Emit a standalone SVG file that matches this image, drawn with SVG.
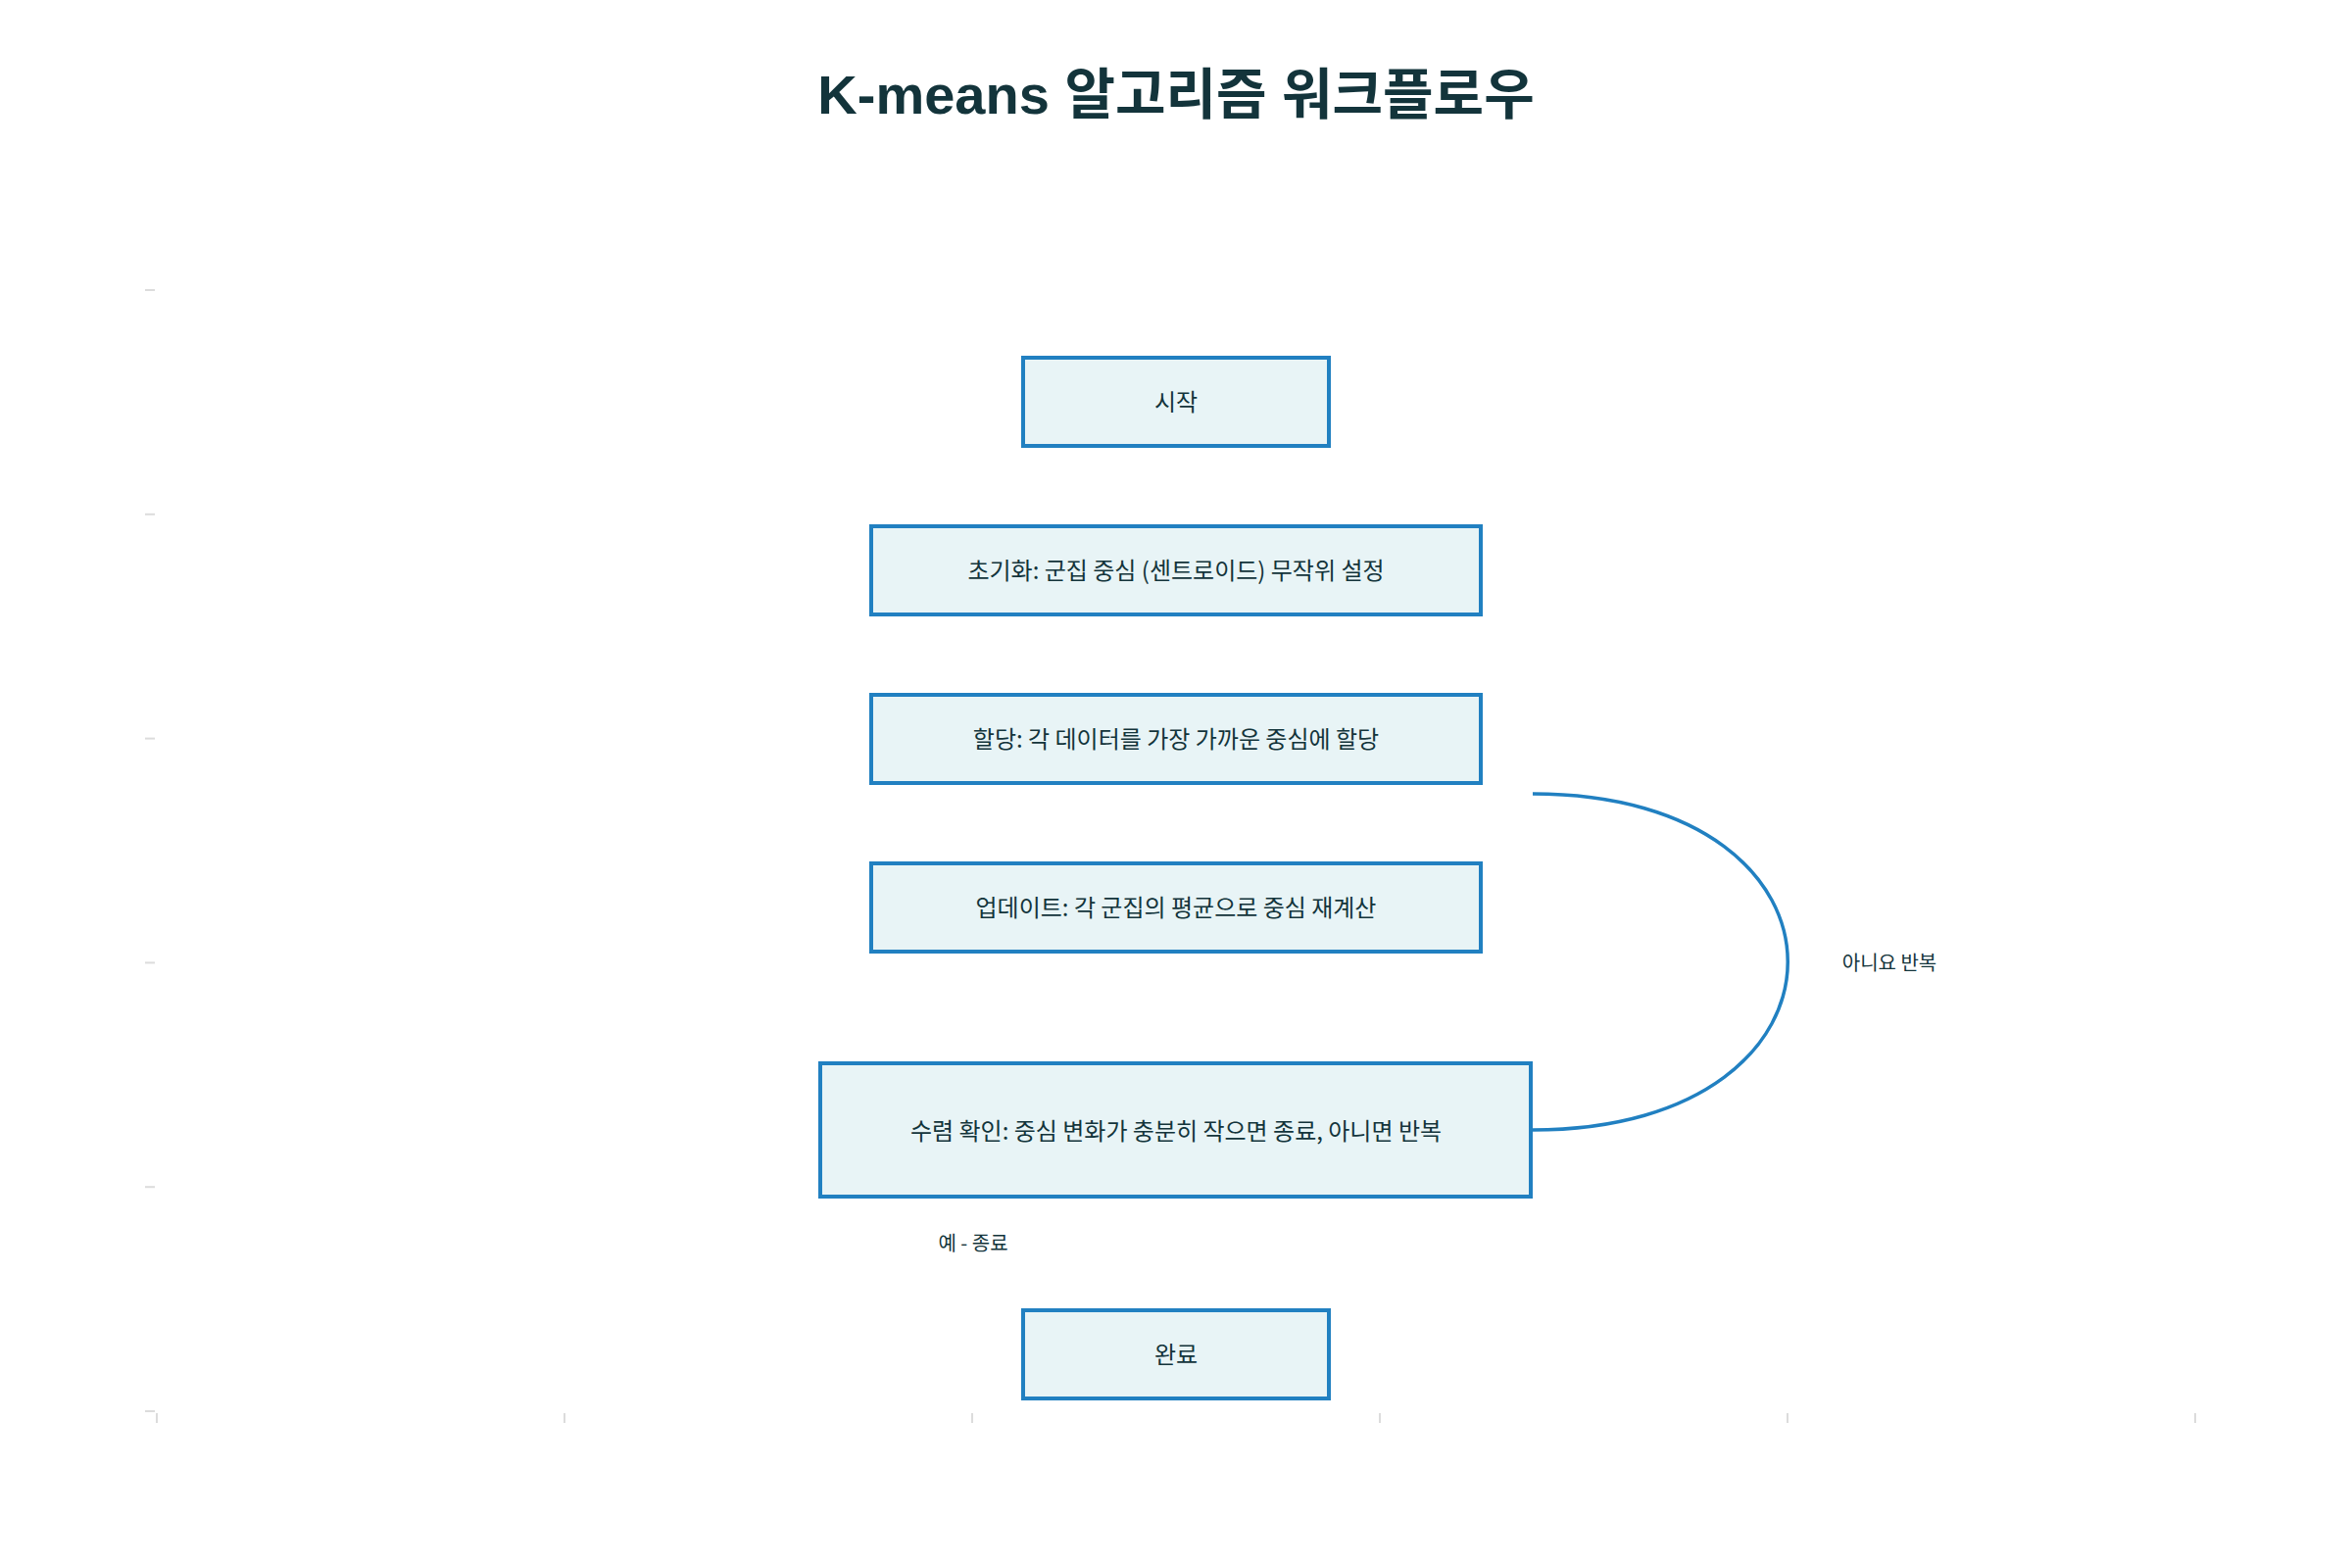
<svg xmlns="http://www.w3.org/2000/svg" width="2400" height="1600" viewBox="0 0 2400 1600">
  <style>
    .bg { fill: #ffffff; }
    .tick { stroke: #dcdcdc; stroke-width: 2; fill: none; }
    .node rect { fill: #E8F4F6; stroke: #2180C1; stroke-width: 4; }
    .node text { font-family: "Noto Sans CJK KR", "Liberation Sans", sans-serif; font-size: 24px; fill: #13343B; text-anchor: middle; dominant-baseline: central; }
    .title { font-family: "Liberation Sans", "Noto Sans CJK KR", sans-serif; font-weight: bold; font-size: 56px; fill: #13343B; text-anchor: middle; }
    .edge { fill: none; stroke: #2180C1; stroke-width: 3.5; }
    .label { font-family: "Noto Sans CJK KR", "Liberation Sans", sans-serif; font-size: 20px; fill: #13343B; text-anchor: middle; dominant-baseline: central; }
  </style>
  <rect class="bg" x="0" y="0" width="2400" height="1600"/>

  <text class="title" x="1200" y="116">K-means 알고리즘 워크플로우</text>

  <g id="axis-ticks">
    <line class="tick" x1="148" y1="296" x2="158" y2="296"/>
    <line class="tick" x1="148" y1="524.8" x2="158" y2="524.8"/>
    <line class="tick" x1="148" y1="753.6" x2="158" y2="753.6"/>
    <line class="tick" x1="148" y1="982.4" x2="158" y2="982.4"/>
    <line class="tick" x1="148" y1="1211.2" x2="158" y2="1211.2"/>
    <line class="tick" x1="148" y1="1440" x2="158" y2="1440"/>
    <line class="tick" x1="160" y1="1442" x2="160" y2="1452"/>
    <line class="tick" x1="576" y1="1442" x2="576" y2="1452"/>
    <line class="tick" x1="992" y1="1442" x2="992" y2="1452"/>
    <line class="tick" x1="1408" y1="1442" x2="1408" y2="1452"/>
    <line class="tick" x1="1824" y1="1442" x2="1824" y2="1452"/>
    <line class="tick" x1="2240" y1="1442" x2="2240" y2="1452"/>
  </g>

  <g id="connectors">
    <path class="edge" d="M1564,810 C1911,810 1911,1153 1564,1153"/>
    <text class="label" x="1928" y="981">아니요 반복</text>
    <text class="label" x="993" y="1267">예 - 종료</text>
  </g>

  <g id="node-start" class="node">
    <rect x="1044" y="365" width="312" height="90"/>
    <text x="1200" y="408">시작</text>
  </g>
  <g id="node-init" class="node">
    <rect x="889" y="537" width="622" height="90"/>
    <text x="1200" y="580">초기화: 군집 중심 (센트로이드) 무작위 설정</text>
  </g>
  <g id="node-assign" class="node">
    <rect x="889" y="709" width="622" height="90"/>
    <text x="1200" y="752">할당: 각 데이터를 가장 가까운 중심에 할당</text>
  </g>
  <g id="node-update" class="node">
    <rect x="889" y="881" width="622" height="90"/>
    <text x="1200" y="924">업데이트: 각 군집의 평균으로 중심 재계산</text>
  </g>
  <g id="node-converge" class="node">
    <rect x="837" y="1085" width="725" height="136"/>
    <text x="1200" y="1152">수렴 확인: 중심 변화가 충분히 작으면 종료, 아니면 반복</text>
  </g>
  <g id="node-done" class="node">
    <rect x="1044" y="1337" width="312" height="90"/>
    <text x="1200" y="1380">완료</text>
  </g>
</svg>
